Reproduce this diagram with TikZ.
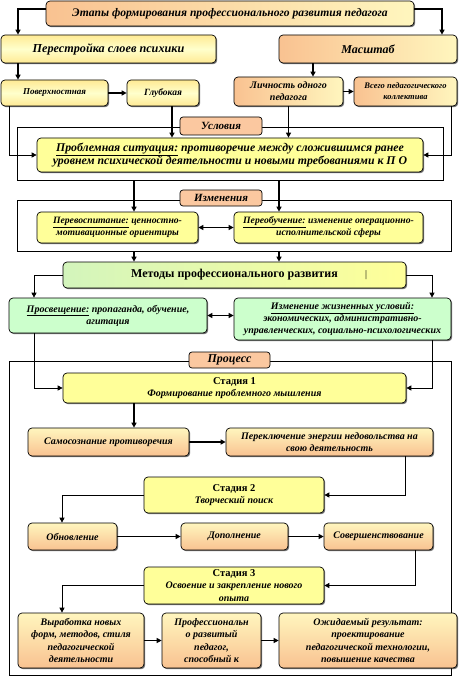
\documentclass[tikz,border=0pt]{standalone}
\usepackage{fontspec}
\setmainfont{Liberation Serif}
\usetikzlibrary{shadows,arrows.meta}
\definecolor{peach}{HTML}{F9C291}
\definecolor{paleyel}{HTML}{FFF6BE}
\definecolor{yelA}{HTML}{FFEA94}
\definecolor{yelB}{HTML}{FFFFCC}
\definecolor{flatyel}{HTML}{FFFF99}
\definecolor{lgreen}{HTML}{CCFFCC}
\definecolor{mgreen}{HTML}{D3F5BC}
\definecolor{labpeach}{HTML}{FBC8A0}
\newcommand\stagefont{\upshape\bfseries\fontsize{10.5}{12.5}\selectfont}
\tikzset{
  bx/.style={draw, line width=0.7pt, rounded corners=4pt, align=center, inner sep=1pt,
    font=\bfseries\itshape\fontsize{10}{12.5}\selectfont,
    drop shadow={shadow xshift=1.2pt, shadow yshift=-1.2pt, opacity=0.55, fill=black}},
  sz/.style 2 args={minimum width=#1pt, minimum height=#2pt},
  orLR/.style={left color=peach, right color=paleyel},
  orTB/.style={top color=paleyel, bottom color=peach},
  yelbox/.style={top color=yelA, bottom color=yelA, middle color=yelB},
  flatbox/.style={fill=flatyel},
  greenbox/.style={fill=lgreen},
  methbox/.style={left color=mgreen, right color=flatyel},
  labbox/.style={draw, line width=0.7pt, rounded corners=3pt, fill=labpeach, inner sep=0pt,
    font=\bfseries\itshape\fontsize{11}{12}\selectfont},
  frame/.style={draw, line width=0.7pt, inner sep=0pt},
  arr/.style={line width=1.4pt, -{Triangle[length=5pt,width=5pt]}},
  darr/.style={line width=1.4pt, {Triangle[length=5pt,width=5pt]}-{Triangle[length=5pt,width=5pt]}},
  thinarr/.style={line width=0.8pt, -{Triangle[length=5pt,width=5pt]}},
}
\begin{document}
\begin{tikzpicture}[x=1pt,y=-1pt]
\fill[white] (0,0) rectangle (460,676);
\useasboundingbox (0,0) rectangle (460,676);

% frames
\node[frame, sz={426}{53}] (cond) at (230,153.5) {};
\node[frame, sz={434}{51}] (ch) at (234,225.5) {};
\node[frame, sz={442}{314}] (proc) at (230,518) {};

% top part
\node[bx, orLR, sz={368}{25}, font=\bfseries\itshape\fontsize{11.6}{13}\selectfont] (title) at (230,13.5) {Этапы формирования профессионального развития педагога};
\node[bx, yelbox, sz={215}{28}, font=\bfseries\itshape\fontsize{12.2}{14}\selectfont] (restr) at (108.5,49) {Перестройка слоев психики};
\node[bx, orLR, sz={178}{28}, font=\bfseries\itshape\fontsize{12}{14}\selectfont] (scale) at (368,49) {Масштаб};
\node[bx, yelbox, sz={107}{26}, font=\bfseries\itshape\fontsize{9}{11}\selectfont] (surf) at (54.5,93) {Поверхностная};
\node[bx, yelbox, sz={72}{26}, font=\bfseries\itshape\fontsize{9.5}{11}\selectfont] (deep) at (163,93) {Глубокая};
\node[bx, orLR, sz={109}{29}, font=\bfseries\itshape\fontsize{10}{12}\selectfont] (pers) at (288.5,91.5) {Личность одного\\педагога};
\node[bx, orLR, sz={103}{29}, font=\bfseries\itshape\fontsize{8.5}{11}\selectfont] (coll) at (405.5,91.5) {Всего педагогического\\коллектива};

\node[labbox, sz={82}{18}] (condlab) at (221,126) {Условия};
\node[bx, flatbox, sz={386}{34}, font=\bfseries\itshape\fontsize{11.8}{13.5}\selectfont] (probl) at (230,155) {\underline{Проблемная ситуация:} противоречие между сложившимся ранее\\уровнем психической деятельности и новыми требованиями к П О};

\node[labbox, sz={82}{16}] (chlab) at (221,198) {Изменения};
\node[bx, flatbox, sz={161}{31}, font=\bfseries\itshape\fontsize{9.7}{12}\selectfont] (reed) at (117.5,227.5) {\underline{Перевоспитание:} ценностно-\\мотивационные ориентиры};
\node[bx, flatbox, sz={189}{31}, font=\bfseries\itshape\fontsize{9.7}{12}\selectfont] (retr) at (328.5,227.5) {\underline{Переобучение:} изменение операционно-\\исполнительской сферы};

\node[bx, methbox, sz={343}{26}, font=\bfseries\fontsize{12}{14}\selectfont] (meth) at (234.5,275) {Методы профессионального развития};
\node[font=\fontsize{10}{11}\selectfont, inner sep=0pt] (cursor) at (366,275) {|};
\node[bx, greenbox, sz={198}{35}, font=\bfseries\itshape\fontsize{10}{12}\selectfont] (enl) at (108,315.5) {\underline{Просвещение:} пропаганда, обучение,\\агитация};
\node[bx, greenbox, sz={217}{42}, font=\bfseries\itshape\fontsize{10}{12}\selectfont] (life) at (342.5,319) {\underline{Изменение жизненных условий:}\\экономических, административно-\\управленческих, социально-психологических};

% process
\node[labbox, sz={81}{16}, font=\bfseries\itshape\fontsize{12}{13}\selectfont] (proclab) at (229.5,360) {Процесс};
\node[bx, flatbox, sz={343}{30}] (st1) at (234.5,388) {{\stagefont Стадия 1}\\Формирование проблемного мышления};
\node[bx, orTB, sz={161}{28}] (self) at (108.5,442) {Самосознание противоречия};
\node[bx, orTB, sz={207}{28}] (swit) at (329.5,442) {Переключение энергии недовольства на\\свою деятельность};
\node[bx, flatbox, sz={180}{36}] (st2) at (234,495) {{\stagefont Стадия 2}\\Творческий поиск};
\node[bx, orTB, sz={89}{27}] (upd) at (72.5,536.5) {Обновление};
\node[bx, orTB, sz={107}{27}] (add) at (234.5,536.5) {Дополнение};
\node[bx, orTB, sz={109}{27}] (impr) at (378.5,536.5) {Совершенствование};
\node[bx, flatbox, sz={180}{37}] (st3) at (234,585.5) {{\stagefont Стадия 3}\\Освоение и закрепление нового\\опыта};
\node[bx, orTB, sz={126}{55}] (dev) at (81,640.5) {Выработка новых\\форм, методов, стиля\\педагогической\\деятельности};
\node[bx, orTB, sz={99}{55}] (prof) at (211.5,640.5) {Профессиональн\\о развитый\\педагог,\\способный к};
\node[bx, orTB, sz={178}{55}] (res) at (368,640.5) {Ожидаемый результат:\\проектирование\\педагогической технологии,\\повышение качества};

% x guides
\coordinate (xT1) at (18,0);
\coordinate (xT2) at (442,0);
\coordinate (xS) at (313,0);
\coordinate (xL) at (9,0);
\coordinate (xR) at (451,0);
\coordinate (xDeep) at (172,0);
\coordinate (xA) at (134,0);
\coordinate (xB) at (279,0);
\coordinate (xC) at (34,0);
\coordinate (xD) at (432,0);
\coordinate (xE) at (405,0);
\coordinate (xF) at (62,0);
\coordinate (xG) at (415,0);
\coordinate (yT) at (0,9);

% connectors
\draw[arr] (title.west |- yT) -| (restr.north -| xT1);
\draw[arr] (title.east |- yT) -| (scale.north -| xT2);
\draw[arr] (restr.south -| xT1) -- (surf.north -| xT1);
\draw[arr] (surf.east) -- (deep.west);
\draw[arr] (scale.south -| xS) -- (pers.north -| xS);
\draw[arr] (pers.east) -- (coll.west);
\draw[thinarr] (surf.south -| xL) |- (probl.west);
\draw[thinarr] (coll.south -| xR) |- (probl.east);
\draw[arr] (deep.south -| xDeep) -- (probl.north -| xDeep);
\draw[arr] (pers.south) -- (pers.south |- probl.north);
\draw[arr] (cond.south -| xA) -- (reed.north -| xA);
\draw[arr] (cond.south -| xB) -- (retr.north -| xB);
\draw[darr] (reed.east) -- (retr.west);
\draw[arr] (ch.south -| xA) -- (meth.north -| xA);
\draw[arr] (ch.south -| xB) -- (meth.north -| xB);
\draw[thinarr] (meth.west) -| (enl.north -| xC);
\draw[thinarr] (meth.east) -| (life.north -| xD);
\draw[darr] (enl.east) -- (enl.east -| life.west);
\draw[thinarr] (enl.south -| xC) |- (st1.west);
\draw[thinarr] (life.south -| xD) |- (st1.east);
\draw[arr] (st1.south -| xA) -- (self.north -| xA);
\draw[arr] (self.east) -- (swit.west);
\draw[thinarr] (swit.south -| xE) |- (st2.east);
\draw[thinarr] (st2.west) -| (upd.north -| xF);
\draw[arr] (upd.east) -- (add.west);
\draw[arr] (add.east) -- (impr.west);
\draw[thinarr] (impr.south -| xG) |- (st3.east);
\draw[thinarr] (st3.west) -| (dev.north -| xF);
\draw[arr] (dev.east) -- (prof.west);
\draw[arr] (prof.east) -- (res.west);
\end{tikzpicture}
\end{document}
